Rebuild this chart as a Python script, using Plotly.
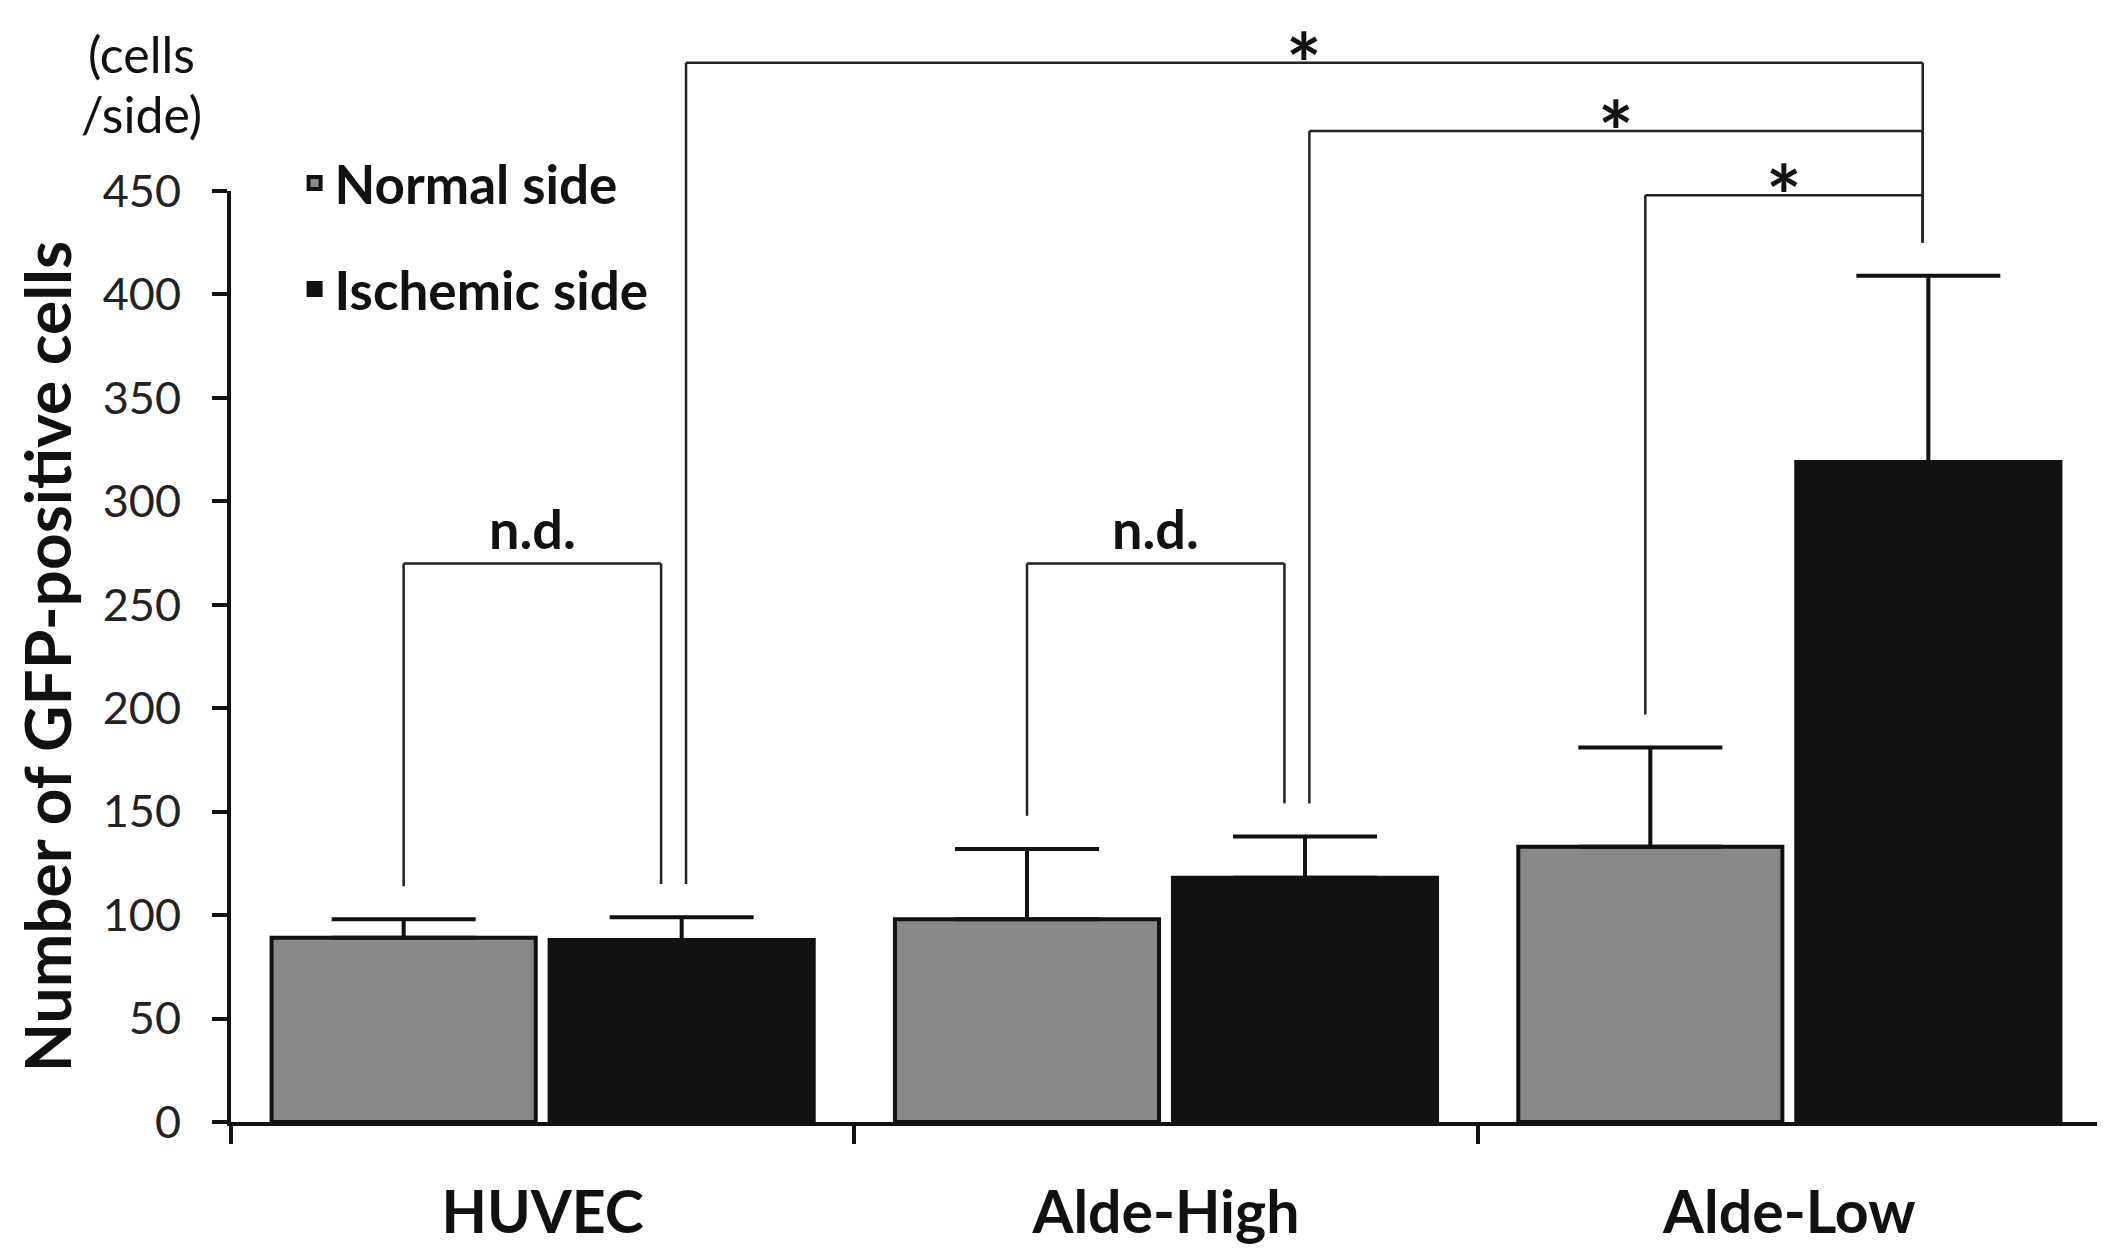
import plotly.graph_objects as go

categories = ["HUVEC", "Alde-High", "Alde-Low"]
normal_mean = [89, 98, 133]
normal_err = [9, 34, 48]
ischemic_mean = [88, 118, 319]
ischemic_err = [11, 20, 90]
y_ticks = [0, 50, 100, 150, 200, 250, 300, 350, 400, 450]

# significance brackets
nd_brackets = [(0, 270, "n.d."), (1, 270, "n.d.")]
sig_brackets = [(0, 512, "*"), (1, 479, "*"), ("n", 448, "*")]

YMAX = 450
FONT = "Lato"
INK = "#111111"

fig = go.Figure()
fig.add_trace(go.Bar(
    name="Normal side", x=categories, y=normal_mean, legendgroup="a",
    marker=dict(color="#898989", line=dict(color=INK, width=4)),
    error_y=dict(type="data", array=normal_err, arrayminus=[0] * 3, symmetric=False,
                 color=INK, thickness=4, width=72),
))
fig.add_trace(go.Bar(
    name="Ischemic side", x=categories, y=ischemic_mean, legendgroup="b",
    marker=dict(color="#131313", line=dict(color=INK, width=4)),
    error_y=dict(type="data", array=ischemic_err, arrayminus=[0] * 3, symmetric=False,
                 color=INK, thickness=4, width=72),
))

bargap = 0.108
slot = (1 - bargap) / 2
off_n = -slot / 2
off_i = slot / 2
gap = 16

def py(v):
    return v / YMAX

shapes = []
annotations = []

def bracket(xl, bl, xr, br, top):
    lw = dict(color="#222222", width=2.5)
    shapes.append(dict(type="line", xref="x", yref="paper", x0=xl, x1=xl, y0=py(bl), y1=py(top), line=lw))
    shapes.append(dict(type="line", xref="x", yref="paper", x0=xl, x1=xr, y0=py(top), y1=py(top), line=lw))
    shapes.append(dict(type="line", xref="x", yref="paper", x0=xr, x1=xr, y0=py(br), y1=py(top), line=lw))

for g, top, lab in nd_brackets:
    xl = g + off_n
    xr = g + off_i - 0.033
    bracket(xl, normal_mean[g] + normal_err[g] + gap, xr,
            ischemic_mean[g] + ischemic_err[g] + gap, top)
    annotations.append(dict(x=(xl + xr) / 2, y=py(top + 17), xref="x", yref="paper",
                            text=lab, showarrow=False, xanchor="center", yanchor="middle",
                            font=dict(family=FONT, size=54, color=INK, weight="bold")))

xr_sig = 2 + off_i - 0.009
br_sig = ischemic_mean[2] + ischemic_err[2] + gap
for g, top, lab in sig_brackets:
    if g == "n":
        xl = 2 + off_n - 0.008
        bl = normal_mean[2] + normal_err[2] + gap
    else:
        xl = g + off_i + 0.007
        bl = ischemic_mean[g] + ischemic_err[g] + gap
    bracket(xl, bl, xr_sig, br_sig, top)
    annotations.append(dict(x=(xl + xr_sig) / 2, y=py(top + 25), xref="x", yref="paper",
                            text=lab, showarrow=False, xanchor="center", yanchor="top",
                            borderpad=0,
                            font=dict(family=FONT, size=84, color=INK, weight="bold")))

annotations.append(dict(x=-0.048, y=1.147, xref="paper", yref="paper",
                        text="(cells", showarrow=False, xanchor="center", yanchor="middle",
                        font=dict(family=FONT, size=50, color=INK)))
annotations.append(dict(x=-0.048, y=1.0825, xref="paper", yref="paper",
                        text="/side)", showarrow=False, xanchor="center", yanchor="middle",
                        font=dict(family=FONT, size=50, color=INK)))

fig.update_layout(
    width=2105, height=1250,
    margin=dict(l=223, r=12, t=183, b=130),
    paper_bgcolor="white", plot_bgcolor="white",
    barmode="group", bargap=bargap, bargroupgap=0.05,
    shapes=shapes, annotations=annotations,
    showlegend=True,
    legend=dict(x=0.034, y=1.0525, xanchor="left", yanchor="top",
                traceorder="grouped", tracegroupgap=34,
                bgcolor="rgba(0,0,0,0)",
                font=dict(family=FONT, size=53, color=INK, weight="bold")),
    xaxis=dict(type="category", range=[-0.5, 2.5], tickson="boundaries",
               ticks="outside", ticklen=18, tickwidth=4, tickcolor=INK,
               showline=True, linewidth=4, linecolor=INK, showgrid=False,
               ticklabelstandoff=36,
               tickfont=dict(family=FONT, size=59, color=INK, weight="bold")),
    yaxis=dict(range=[0, YMAX], tickvals=y_ticks, ticks="outside", ticklen=15,
               tickwidth=4, tickcolor=INK, showline=True, linewidth=4, linecolor=INK,
               showgrid=False, zeroline=False, ticklabelstandoff=22,
               tickfont=dict(family=FONT, size=45, color="#222222"),
               title=dict(text="Number of GFP-positive cells", standoff=24,
                          font=dict(family=FONT, size=64, color=INK, weight="bold"))),
)

fig.write_html("out.html")
